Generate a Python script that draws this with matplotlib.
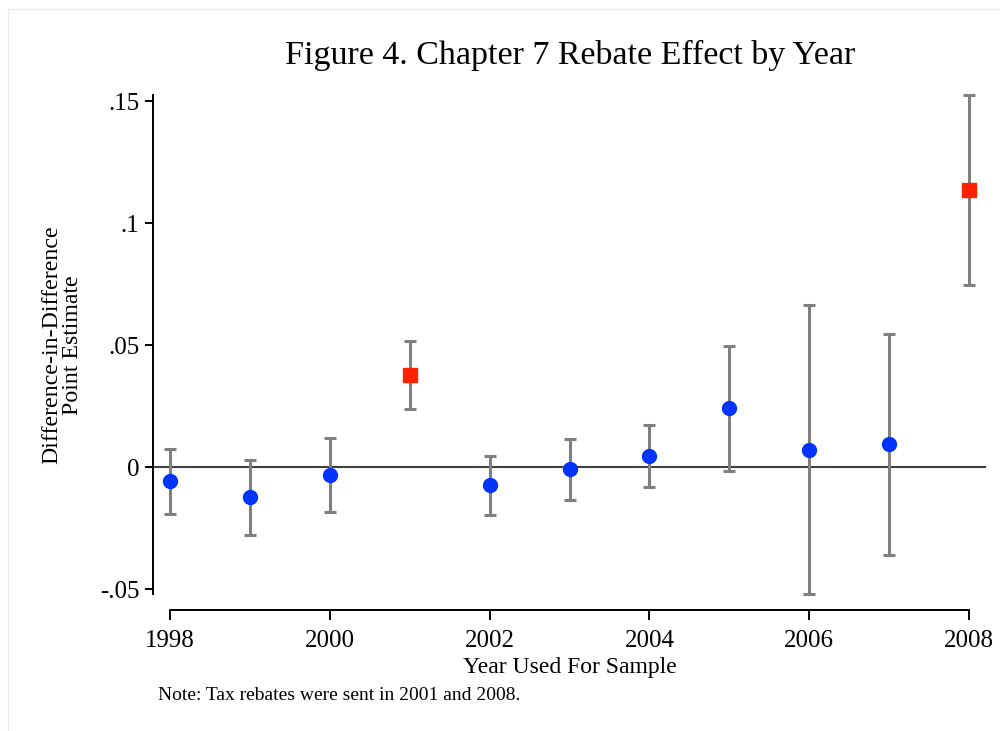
import matplotlib
matplotlib.use("Agg")
import matplotlib.pyplot as plt
from matplotlib.patches import Rectangle

# ------------------ DATA ------------------
years = [1998, 1999, 2000, 2001, 2002, 2003, 2004, 2005, 2006, 2007, 2008]
estimate = [-0.0057, -0.0123, -0.0033, 0.0377, -0.0074, -0.0008, 0.0045, 0.0242, 0.0070, 0.0094, 0.1135]
ci_low = [-0.0193, -0.0279, -0.0184, 0.0238, -0.0197, -0.0135, -0.0082, -0.0016, -0.0520, -0.0361, 0.0746]
ci_high = [0.0074, 0.0029, 0.0119, 0.0516, 0.0045, 0.0115, 0.0172, 0.0496, 0.0664, 0.0545, 0.1525]
rebate_years = [2001, 2008]

yticks = [-0.05, 0, 0.05, 0.1, 0.15]
ytick_labels = ["-.05", "0", ".05", ".1", ".15"]
xticks = [1998, 2000, 2002, 2004, 2006, 2008]

# ------------------ CONFIG ------------------
plt.rcParams.update({
    "font.family": "Liberation Serif",
    "font.size": 18,
})

W, H = 1000, 731
PX = 72 / 100  # points per pixel at dpi 100

fig = plt.figure(figsize=(W / 100, H / 100), dpi=100)
fig.patches.append(Rectangle((8 / W, -0.01), 1.0, 1 - 9 / H + 0.01, transform=fig.transFigure,
                             fill=False, edgecolor="#ececec", linewidth=1.0))

ax = fig.add_axes([170 / W, (H - 594) / H, (969 - 170) / W, (594 - 95) / H])
ax.set_xlim(1998, 2008)
ax.set_ylim(min(ci_low), max(ci_high))

# zero reference line
ax.plot([1997.72, 2008.2], [0, 0], color="#404040", lw=1.5, clip_on=False, zorder=1)

# confidence intervals
for x, lo, hi in zip(years, ci_low, ci_high):
    ax.errorbar([x], [(lo + hi) / 2], yerr=[[(hi - lo) / 2], [(hi - lo) / 2]], fmt="none",
                ecolor="#808080", elinewidth=2.2, capsize=4.5, capthick=2.2, clip_on=False, zorder=2)

# point estimates: rebate years in red squares
for x, y in zip(years, estimate):
    if x in rebate_years:
        ax.plot(x, y, marker="s", ms=10, color="#ff2200", mec="#ff2200", clip_on=False, zorder=3)
    else:
        ax.plot(x, y, marker="o", ms=10, color="#0033ff", mec="#0033ff", clip_on=False, zorder=3)

# detached axes
for s in ["top", "right"]:
    ax.spines[s].set_visible(False)
ax.spines["left"].set_position(("outward", 17 * PX))
ax.spines["bottom"].set_position(("outward", 16 * PX))
ax.spines["left"].set_bounds(min(ci_low), max(ci_high))
ax.spines["bottom"].set_bounds(1998, 2008)
ax.spines["left"].set_linewidth(1.4)
ax.spines["bottom"].set_linewidth(1.4)

ax.set_yticks(yticks)
ax.set_yticklabels(ytick_labels, fontsize=18)
ax.set_xticks(xticks)
ax.set_xticklabels([str(t) for t in xticks], fontsize=18)
ax.tick_params(axis="y", length=8 * PX, width=1.4, pad=4)
ax.tick_params(axis="x", length=10 * PX, width=1.4, pad=7)

ax.set_xlabel("Year Used For Sample", fontsize=17, labelpad=4)
fig.text(62 / W, 1 - 345 / H, "Difference-in-Difference\nPoint Estimate", rotation=90,
         ha="center", va="center", fontsize=17.2, linespacing=1.0)
fig.text(570 / W, 1 - 55 / H, "Figure 4. Chapter 7 Rebate Effect by Year", ha="center", va="center",
         fontsize=24.5)
fig.text(158 / W, 1 - 696 / H, "Note: Tax rebates were sent in 2001 and 2008.", ha="left", va="center",
         fontsize=14)

fig.savefig("out.png", dpi=100)
